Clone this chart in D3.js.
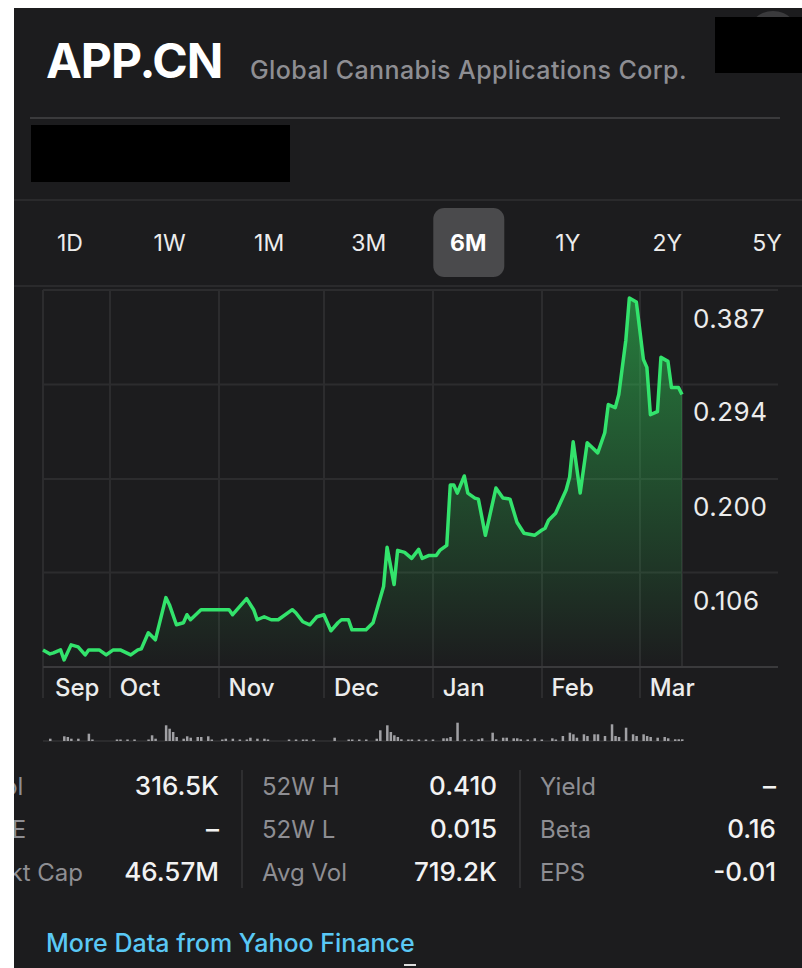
<!DOCTYPE html>
<html>
<head>
<meta charset="utf-8">
<script src="https://cdn.jsdelivr.net/npm/d3@7"></script>
<style>
  body { margin: 0; background: #fff; }
  svg { display: block; font-family: Inter, "Open Sans", sans-serif; }
</style>
</head>
<body>
<div id="chart"></div>
<script>
// ---- data ----
var priceDates = ["2018-09-12","2018-09-14","2018-09-15","2018-09-17","2018-09-18","2018-09-20","2018-09-22","2018-09-24","2018-09-25","2018-09-28","2018-09-30",
    "2018-10-02","2018-10-04","2018-10-07","2018-10-09","2018-10-10","2018-10-12","2018-10-14","2018-10-17","2018-10-18","2018-10-20","2018-10-22","2018-10-23","2018-10-24","2018-10-27",
    "2018-11-04","2018-11-05","2018-11-09","2018-11-11","2018-11-12","2018-11-14","2018-11-16","2018-11-18","2018-11-22","2018-11-23","2018-11-25","2018-11-27","2018-11-29",
    "2018-12-01","2018-12-03","2018-12-05","2018-12-06","2018-12-08","2018-12-09","2018-12-13","2018-12-15","2018-12-16","2018-12-18","2018-12-19","2018-12-21","2018-12-22","2018-12-24","2018-12-26","2018-12-28","2018-12-29","2018-12-31",
    "2019-01-02","2019-01-03","2019-01-05","2019-01-06","2019-01-07","2019-01-08","2019-01-10","2019-01-11","2019-01-13","2019-01-14","2019-01-16","2019-01-19","2019-01-21","2019-01-23","2019-01-25","2019-01-27","2019-01-30",
    "2019-02-01","2019-02-02","2019-02-03","2019-02-05","2019-02-08","2019-02-09","2019-02-10","2019-02-12","2019-02-14","2019-02-17","2019-02-19","2019-02-20","2019-02-22","2019-02-23","2019-02-25","2019-02-26","2019-02-28",
    "2019-03-02","2019-03-03","2019-03-04","2019-03-06","2019-03-07","2019-03-09","2019-03-10","2019-03-12","2019-03-13"];
var priceValues = [0.057,0.053,0.054,0.057,0.047,0.062,0.060,0.052,0.057,0.057,0.052,
    0.057,0.057,0.052,0.057,0.058,0.074,0.067,0.109,0.102,0.082,0.084,0.092,0.087,0.097,
    0.097,0.092,0.108,0.097,0.087,0.090,0.087,0.087,0.097,0.094,0.085,0.082,0.090,
    0.092,0.076,0.084,0.087,0.087,0.077,0.077,0.084,0.096,0.120,0.159,0.122,0.156,0.154,0.148,0.157,0.148,0.151,
    0.151,0.156,0.161,0.221,0.221,0.213,0.230,0.213,0.208,0.207,0.171,0.218,0.208,0.207,0.184,0.173,0.171,
    0.176,0.178,0.186,0.193,0.216,0.229,0.264,0.213,0.263,0.253,0.273,0.301,0.298,0.311,0.365,0.407,0.403,
    0.346,0.338,0.291,0.294,0.348,0.344,0.318,0.318,0.311];

var volDates = ["2018-09-14","2018-09-18","2018-09-19","2018-09-20","2018-09-22","2018-09-25","2018-09-26",
    "2018-10-03","2018-10-04","2018-10-06","2018-10-08","2018-10-12","2018-10-13","2018-10-14","2018-10-17","2018-10-18","2018-10-19","2018-10-20","2018-10-22","2018-10-23","2018-10-24","2018-10-26","2018-10-27","2018-10-29","2018-10-30",
    "2018-11-02","2018-11-03","2018-11-05","2018-11-07","2018-11-09","2018-11-10","2018-11-12","2018-11-14","2018-11-15","2018-11-21","2018-11-23","2018-11-25","2018-11-26","2018-11-28",
    "2018-12-04","2018-12-08","2018-12-09","2018-12-11","2018-12-13","2018-12-16","2018-12-17","2018-12-19","2018-12-20","2018-12-21","2018-12-22","2018-12-23","2018-12-25","2018-12-26","2018-12-28","2018-12-30",
    "2019-01-01","2019-01-04","2019-01-05","2019-01-06","2019-01-08","2019-01-10","2019-01-12","2019-01-14","2019-01-15","2019-01-18","2019-01-19","2019-01-21","2019-01-22","2019-01-24","2019-01-25","2019-01-26","2019-01-28","2019-01-30",
    "2019-02-01","2019-02-04","2019-02-05","2019-02-07","2019-02-09","2019-02-10","2019-02-11","2019-02-13","2019-02-14","2019-02-16","2019-02-17","2019-02-19","2019-02-21","2019-02-22","2019-02-23","2019-02-25","2019-02-27","2019-02-28",
    "2019-03-02","2019-03-03","2019-03-04","2019-03-06","2019-03-08","2019-03-09","2019-03-11","2019-03-12","2019-03-13"];
// volume, millions of shares
var volValues = [0.46,0.94,0.80,0.46,0.46,1.46,0.26,
    0.26,0.26,0.26,0.26,0.26,1.14,0.46,3.14,2.46,1.80,0.80,0.46,0.94,0.66,0.80,0.80,0.94,0.26,
    0.26,0.46,0.46,0.26,0.26,0.66,0.46,0.46,0.26,0.26,0.26,0.26,0.26,0.26,
    0.66,0.26,0.26,0.26,0.26,0.46,2.14,3.14,1.80,1.14,0.80,0.34,0.14,0.14,0.14,0.14,
    0.14,0.54,0.54,0.80,3.66,0.34,0.14,0.34,0.54,1.66,0.34,0.66,0.66,0.54,0.54,0.34,0.14,0.54,
    0.14,0.54,0.14,1.00,1.66,1.34,0.66,1.34,1.00,1.34,1.34,1.00,3.34,1.00,0.80,2.66,1.34,1.00,
    1.34,1.00,0.80,0.66,0.80,0.54,0.34,0.34,0.34];

var monthLabels = ["Sep","Oct","Nov","Dec","Jan","Feb","Mar"];
var monthStarts = ["2018-09-12","2018-10-01","2018-11-01","2018-12-01","2019-01-01","2019-02-01","2019-03-01"];
var dateRange = ["2018-09-12","2019-03-13"];

var priceTicks = [0.106, 0.200, 0.294, 0.387];
var gridValues = [0.040, 0.134, 0.227, 0.321, 0.415];

var tabs = ["1D","1W","1M","3M","6M","1Y","2Y","5Y"];
var activeTab = "6M";

var statLabels = [["Vol","P/E","Mkt Cap"],["52W H","52W L","Avg Vol"],["Yield","Beta","EPS"]];
var statValues = [["316.5K","\u2013","46.57M"],["0.410","0.015","719.2K"],["\u2013","0.16","-0.01"]];

// ---- drawing ----
var W = 802, H = 968;
var parse = d3.timeParse("%Y-%m-%d");
var bg = "#1c1c1e", grid = "#2c2c2e", green = "#33e36c", textCol = "#ececec", grayCol = "#8e8e93";

var svg = d3.select("#chart").append("svg")
    .attr("width", W)
    .attr("height", H);

var defs = svg.append("defs");
var grad = defs.append("linearGradient")
    .attr("id", "fill")
    .attr("gradientUnits", "userSpaceOnUse")
    .attr("x1", 0).attr("x2", 0).attr("y1", 290).attr("y2", 667);
grad.append("stop").attr("offset", 0).attr("stop-color", "#30d158").attr("stop-opacity", 0.55);
grad.append("stop").attr("offset", 1).attr("stop-color", "#30d158").attr("stop-opacity", 0);

defs.append("clipPath").attr("id", "panel")
    .append("rect").attr("x", 14).attr("y", 8).attr("width", W - 14).attr("height", H - 8);

svg.append("rect")
    .attr("x", 14).attr("y", 8)
    .attr("width", W - 14).attr("height", H - 8)
    .attr("fill", bg);

// header
svg.append("text")
    .attr("x", 46).attr("y", 78)
    .attr("fill", "#fff")
    .style("font-size", "48px").style("font-weight", 700)
    .style("letter-spacing", "-1px")
    .text("APP.CN");

svg.append("text")
    .attr("x", 250).attr("y", 79)
    .attr("fill", grayCol)
    .style("font-size", "25px").style("font-weight", 500)
    .style("letter-spacing", "0.4px")
    .text("Global Cannabis Applications Corp.");

svg.append("circle").attr("cx", 773).attr("cy", 38).attr("r", 27).attr("fill", "#3a3a3c");
svg.append("rect").attr("x", 715).attr("y", 17).attr("width", 87).attr("height", 56).attr("fill", "#000");

svg.append("line")
    .attr("x1", 30).attr("x2", 780).attr("y1", 118).attr("y2", 118)
    .attr("stroke", "#3a3a3c").attr("stroke-width", 2);

svg.append("rect").attr("x", 31).attr("y", 125).attr("width", 259).attr("height", 57).attr("fill", "#000");

svg.append("line")
    .attr("x1", 14).attr("x2", W).attr("y1", 200).attr("y2", 200)
    .attr("stroke", "#2a2a2c").attr("stroke-width", 2);

// range tabs
var tabX = d3.scalePoint().domain(tabs).range([70, 767]);

svg.append("rect")
    .attr("x", tabX(activeTab) - 35).attr("y", 208)
    .attr("width", 71).attr("height", 69).attr("rx", 11)
    .attr("fill", "#4a4a4c");

svg.selectAll(".tab")
    .data(tabs)
    .enter().append("text")
    .attr("class", "tab")
    .attr("x", function(d) { return tabX(d); })
    .attr("y", 243)
    .attr("dy", "0.36em")
    .attr("text-anchor", "middle")
    .attr("fill", function(d) { return d === activeTab ? "#fff" : textCol; })
    .style("font-size", "23px")
    .style("font-weight", function(d) { return d === activeTab ? 700 : 400; })
    .text(function(d) { return d; });

svg.append("line")
    .attr("x1", 14).attr("x2", W).attr("y1", 286).attr("y2", 286)
    .attr("stroke", "#2a2a2c").attr("stroke-width", 2);

// price chart
var x = d3.scaleTime()
    .domain(dateRange.map(parse))
    .range([43, 682]);

var y = d3.scaleLinear()
    .domain([gridValues[0], gridValues[gridValues.length - 1]])
    .range([667, 290]);

var prices = priceDates.map(function(d, i) { return {date: parse(d), value: priceValues[i]}; });

svg.selectAll(".hgrid")
    .data(gridValues.slice(1))
    .enter().append("line")
    .attr("class", "hgrid")
    .attr("x1", 43).attr("x2", 778)
    .attr("y1", function(d) { return y(d); })
    .attr("y2", function(d) { return y(d); })
    .attr("stroke", grid).attr("stroke-width", 2);

svg.selectAll(".vgrid")
    .data(monthStarts.map(parse))
    .enter().append("line")
    .attr("class", "vgrid")
    .attr("x1", function(d) { return Math.round(x(d)); })
    .attr("x2", function(d) { return Math.round(x(d)); })
    .attr("y1", y(gridValues[gridValues.length - 1]))
    .attr("y2", 698)
    .attr("stroke", grid).attr("stroke-width", 2);

svg.append("line")
    .attr("x1", x(parse(dateRange[1]))).attr("x2", x(parse(dateRange[1])))
    .attr("y1", y(gridValues[gridValues.length - 1])).attr("y2", y(gridValues[0]))
    .attr("stroke", grid).attr("stroke-width", 2);

var area = d3.area()
    .x(function(d) { return x(d.date); })
    .y0(y(gridValues[0]))
    .y1(function(d) { return y(d.value); });

var line = d3.line()
    .x(function(d) { return x(d.date); })
    .y(function(d) { return y(d.value); });

svg.append("path")
    .datum(prices)
    .attr("d", area)
    .attr("fill", "url(#fill)");

// baseline of the price chart
svg.append("line")
    .attr("x1", 43).attr("x2", 778)
    .attr("y1", y(gridValues[0])).attr("y2", y(gridValues[0]))
    .attr("stroke", "#3a3a3c").attr("stroke-width", 2);

svg.append("path")
    .datum(prices)
    .attr("d", line)
    .attr("fill", "none")
    .attr("stroke", green)
    .attr("stroke-width", 3.5)
    .attr("stroke-linejoin", "round");

// price labels
svg.selectAll(".ptick")
    .data(priceTicks)
    .enter().append("text")
    .attr("class", "ptick")
    .attr("x", 693)
    .attr("y", function(d) { return y(d); })
    .attr("dy", "0.36em")
    .attr("fill", textCol)
    .style("font-size", "26px")
    .style("letter-spacing", "0.5px")
    .text(function(d) { return d3.format(".3f")(d); });

// month labels
svg.selectAll(".month")
    .data(monthLabels)
    .enter().append("text")
    .attr("class", "month")
    .attr("x", function(d, i) { return x(parse(monthStarts[i])) + (i === 0 ? 12 : 10); })
    .attr("y", 687)
    .attr("dy", "0.36em")
    .attr("fill", textCol)
    .style("font-size", "24px").style("font-weight", 500)
    .text(function(d) { return d; });

// volume
var vh = d3.scaleLinear().domain([0, 4]).range([0, 20]);
var volBase = 741;

svg.append("line")
    .attr("x1", 43).attr("x2", 682)
    .attr("y1", volBase).attr("y2", volBase)
    .attr("stroke", "#3a3a3c").attr("stroke-width", 1);

svg.selectAll(".vol")
    .data(volDates)
    .enter().append("rect")
    .attr("class", "vol")
    .attr("x", function(d) { return x(parse(d)) - 1; })
    .attr("width", 2.5)
    .attr("y", function(d, i) { return volBase - Math.max(1.5, vh(volValues[i])); })
    .attr("height", function(d, i) { return Math.max(1.5, vh(volValues[i])); })
    .attr("fill", "#a0a0a4");

// stats table
var colLabelX = [null, 262, 540];
var colValueX = [219, 497, 776];
var rowY = [786, 829, 872];

var stats = svg.append("g").attr("clip-path", "url(#panel)");

statLabels.forEach(function(col, c) {
    col.forEach(function(label, r) {
        stats.append("text")
            .attr("class", "slabel slabel-" + c)
            .attr("x", colLabelX[c] === null ? 0 : colLabelX[c])
            .attr("y", rowY[r]).attr("dy", "0.36em")
            .attr("fill", grayCol)
            .style("font-size", "24px")
            .text(label);
        stats.append("text")
            .attr("x", colValueX[c]).attr("y", rowY[r]).attr("dy", "0.36em")
            .attr("text-anchor", "end")
            .attr("fill", "#f2f2f2")
            .style("font-size", "26px").style("font-weight", 500)
            .text(statValues[c][r]);
    });
});

// first column is scrolled off to the left: its longest label ends at x = 83
var firstCol = stats.selectAll(".slabel-0");
var maxW = d3.max(firstCol.nodes(), function(n) { return n.getComputedTextLength(); });
firstCol.attr("x", 83 - maxW);

[242, 520].forEach(function(sx) {
    svg.append("line")
        .attr("x1", sx).attr("x2", sx).attr("y1", 770).attr("y2", 888)
        .attr("stroke", "#2e2e30").attr("stroke-width", 2);
});

svg.append("text")
    .attr("x", 46).attr("y", 943).attr("dy", "0.36em")
    .attr("fill", "#5ac8f5")
    .style("font-size", "25px").style("font-weight", 500)
    .text("More Data from Yahoo Finance");

svg.append("rect").attr("x", 404).attr("y", 964).attr("width", 12).attr("height", 2).attr("fill", "#ddd");
</script>
</body>
</html>
